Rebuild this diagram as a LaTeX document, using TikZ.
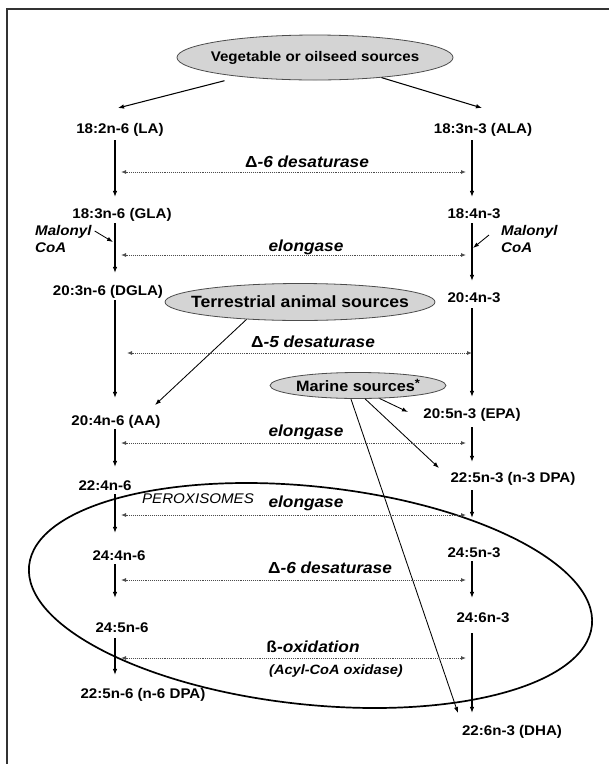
\documentclass[tikz,border=0pt]{standalone}
\usepackage{fontspec}
\setmainfont{Liberation Sans}[FakeStretch=1.08]
\usetikzlibrary{shapes.geometric,arrows.meta}
\begin{document}
\begin{tikzpicture}[x=1pt,y=-1pt,
  lbl/.style={font=\bfseries\fontsize{14}{16}\selectfont, anchor=base, inner sep=1pt, text height=10pt, text depth=3pt},
  enz/.style={font=\bfseries\itshape\fontsize{16}{18}\selectfont, anchor=base, inner sep=0pt},
  src/.style={shape=ellipse, draw=black!70, fill=black!17, line width=0.8pt, inner sep=0pt},
  arr/.style={line width=1.05pt, -{Latex[length=6pt,width=4.6pt]}},
  arrthin/.style={line width=0.85pt, -{Latex[length=6pt,width=4.3pt]}},
  dbl/.style={densely dotted, line width=0.9pt, draw=black!70, {Latex[length=5pt,width=4pt]}-{Latex[length=5pt,width=4pt]}},
  malo/.style={font=\bfseries\itshape\fontsize{14}{17}\selectfont, align=left, anchor=north west, inner sep=0pt}
]
\useasboundingbox (0,0) rectangle (609,764);
% frame
\draw[line width=1.4pt, draw=black!80] (7,764) -- (7,9) -- (609,9);

% peroxisome ellipse
\node[draw, shape=ellipse, minimum width=566pt, minimum height=218pt, rotate=-6.1, line width=1.7pt, inner sep=0pt] (perox) at (310.5,595.5) {};
\node[font=\itshape\fontsize{14}{16}\selectfont, anchor=base, inner sep=0pt] (perlbl) at (198,503) {PEROXISOMES};

% sources
\node[src, minimum width=276pt, minimum height=45pt, font=\bfseries\fontsize{14}{16}\selectfont] (veg) at (315,57.5) {\makebox[0pt]{Vegetable or oilseed sources}};
\node[src, minimum width=270pt, minimum height=37pt, font=\bfseries\fontsize{16.3}{18}\selectfont] (terr) at (300,302) {\makebox[0pt]{Terrestrial animal sources}};
\node[src, minimum width=176pt, minimum height=26pt, font=\bfseries\fontsize{15}{17}\selectfont] (mar) at (358,385.5) {\makebox[0pt]{Marine sources\raisebox{4pt}{\fontsize{12}{12}\selectfont *}}};

% compounds
\node[lbl] (LA) at (120,133) {18:2n-6 (LA)};
\node[lbl] (ALA) at (483,133) {18:3n-3 (ALA)};
\node[lbl] (GLA) at (122,218) {18:3n-6 (GLA)};
\node[lbl] (c184) at (474,218) {18:4n-3};
\node[lbl] (DGLA) at (108,295) {20:3n-6 (DGLA)};
\node[lbl] (c204) at (474,302) {20:4n-3};
\node[lbl] (AA) at (116,425) {20:4n-6 (AA)};
\node[lbl] (EPA) at (472,418) {20:5n-3 (EPA)};
\node[lbl] (c224) at (105,490) {22:4n-6};
\node[lbl] (DPA3) at (513,482) {22:5n-3 (n-3 DPA)};
\node[lbl] (c244) at (119,560) {24:4n-6};
\node[lbl] (c245n3) at (474,557) {24:5n-3};
\node[lbl] (c245n6) at (122,632) {24:5n-6};
\node[lbl] (c246) at (483,622) {24:6n-3};
\node[lbl] (DPA6) at (143,698) {22:5n-6 (n-6 DPA)};
\node[lbl] (DHA) at (512,735) {22:6n-3 (DHA)};

% malonyl
\node[malo] (malL) at (35,225) {Malonyl\\CoA};
\node[malo] (malR) at (501,225) {Malonyl\\CoA};

% columns
\coordinate (cL) at (115,0);
\coordinate (cR) at (472,0);

% left column
\draw[arr, shorten <=3pt, shorten >=10pt] (LA.south -| cL) -- (GLA.north -| cL);
\draw[arr, shorten <=1pt, shorten >=11pt] (GLA.south -| cL) -- (DGLA.north -| cL);
\draw[arr, shorten <=1pt, shorten >=16pt] (DGLA.south -| cL) -- (AA.north -| cL);
\draw[arr, shorten >=12pt] (AA.south -| cL) -- (c224.north -| cL);
\draw[arr, shorten >=16pt] (c224.south -| cL) -- (c244.north -| cL);
\draw[arr, shorten >=23pt] (c244.south -| cL) -- (c245n6.north -| cL);
\draw[arr, shorten <=2pt, shorten >=12pt] (c245n6.south -| cL) -- (DPA6.north -| cL);
% right column
\draw[arr, shorten <=3pt, shorten >=10pt] (ALA.south -| cR) -- (c184.north -| cR);
\draw[arr, shorten <=1pt, shorten >=10pt] (c184.south -| cR) -- (c204.north -| cR);
\draw[arr, shorten <=2pt, shorten >=10pt] (c204.south -| cR) -- (EPA.north -| cR);
\draw[arr, shorten <=5pt, shorten >=9pt] (EPA.south -| cR) -- (DPA3.north -| cR);
\draw[arr, shorten <=4pt, shorten >=28pt] (DPA3.south -| cR) -- (c245n3.north -| cR);
\draw[arr, shorten >=13pt] (c245n3.south -| cR) -- (c246.north -| cR);
\draw[arr, shorten <=7pt, shorten >=11pt] (c246.south -| cR) -- (DHA.north -| cR);

% source arrows
\coordinate (vLtip) at (118,108);
\coordinate (vRtip) at (482,108);
\draw[arr, shorten <=16pt] (veg) -- (vLtip);
\draw[arr] (veg) -- (vRtip);
\coordinate (tTip) at (155,405);
\draw[arrthin] (terr.198) -- (tTip);
\coordinate (mEPA) at (408,412);
\coordinate (mDPA) at (439,468);
\coordinate (mDHA) at (458,713);
\draw[arrthin] (mar.329) -- (mEPA);
\draw[arrthin] (mar.298) -- (mDPA);
\draw[arrthin] (mar.242) -- (mDHA);

% malonyl arrows
\coordinate (mLtip) at (113,242);
\coordinate (mRtip) at (473,248);
\draw[arrthin] ([shift={(3,6)}]malL.north east) -- (mLtip);
\draw[arrthin] ([shift={(-12,10)}]malR.north west) -- (mRtip);

% enzyme steps
\coordinate (e1L) at (121,172); \coordinate (e1R) at (466,172);
\draw[dbl] (e1L) -- (e1R);
\node[enz] (t1) at (307,167.5) {{\upshape Δ}-6 desaturase};
\coordinate (e2L) at (121,255); \coordinate (e2R) at (466,255);
\draw[dbl] (e2L) -- (e2R);
\node[enz] (t2) at (306,251) {elongase};
\coordinate (e3L) at (127,353); \coordinate (e3R) at (472,353);
\draw[dbl] (e3L) -- (e3R);
\node[enz] (t3) at (313,347.5) {{\upshape Δ}-5 desaturase};
\coordinate (e4L) at (121,443); \coordinate (e4R) at (466,443);
\draw[dbl] (e4L) -- (e4R);
\node[enz] (t4) at (306,436) {elongase};
\coordinate (e5L) at (121,515); \coordinate (e5R) at (466,515);
\draw[dbl] (e5L) -- (e5R);
\node[enz] (t5) at (306,507) {elongase};
\coordinate (e6L) at (121,580); \coordinate (e6R) at (466,580);
\draw[dbl] (e6L) -- (e6R);
\node[enz] (t6) at (330,573.5) {{\upshape Δ}-6 desaturase};
\coordinate (e7L) at (121,658); \coordinate (e7R) at (466,658);
\draw[dbl] (e7L) -- (e7R);
\node[enz] (t7) at (313,652.5) {{\upshape ß}-oxidation};
\node[font=\bfseries\itshape\fontsize{13.5}{16}\selectfont, anchor=base, inner sep=0pt] (t7b) at (336,674.5) {(Acyl-CoA oxidase)};
\end{tikzpicture}
\end{document}
